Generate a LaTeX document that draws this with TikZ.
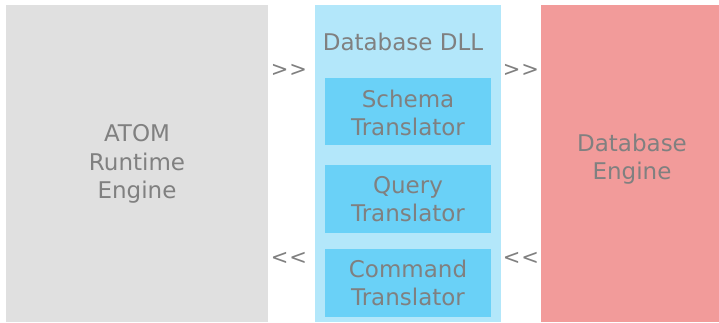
\documentclass[tikz,border=0pt]{standalone}
\usepackage{fontspec}
\setmainfont{DejaVu Sans}
\definecolor{lgray}{HTML}{E0E0E0}
\definecolor{lblue}{HTML}{B3E7FA}
\definecolor{mblue}{HTML}{6AD1F7}
\definecolor{lred}{HTML}{F29B9A}
\definecolor{tgray}{HTML}{808080}
\begin{document}
\begin{tikzpicture}[x=1pt,y=-1pt,
  lbl/.style={text=tgray,font=\fontsize{23}{28.5}\selectfont,align=center,inner sep=0pt},
  arr/.style={text=tgray,font=\fontsize{21}{26}\selectfont,inner sep=0pt}]
\useasboundingbox (0,0) rectangle (719,323);
\fill[white] (0,0) rectangle (719,323);
% blocks
\fill[lgray] (6,5) rectangle (268,322);
\fill[lblue] (315,5) rectangle (501,322);
\fill[lred] (541,5) rectangle (719,322);
\fill[mblue] (325,78) rectangle (491,145);
\fill[mblue] (325,165) rectangle (491,233);
\fill[mblue] (325,249) rectangle (491,317);
% labels
\node[lbl] (atom) at (137,164) {ATOM\\Runtime\\Engine};
\node[lbl] (dll) at (403,42) {Database DLL};
\node[lbl] (schema) at (408,113) {Schema\\Translator};
\node[lbl] (query) at (408,199) {Query\\Translator};
\node[lbl] (command) at (408,283) {Command\\Translator};
\node[lbl] (engine) at (632,159) {Database\\Engine};
\node[arr] (a1) at (289,70) {\textgreater\hspace{1pt}\textgreater};
\node[arr] (a2) at (289,258) {\textless\hspace{1pt}\textless};
\node[arr] (a3) at (521,70) {\textgreater\hspace{1pt}\textgreater};
\node[arr] (a4) at (521,258) {\textless\hspace{1pt}\textless};
\end{tikzpicture}
\end{document}
